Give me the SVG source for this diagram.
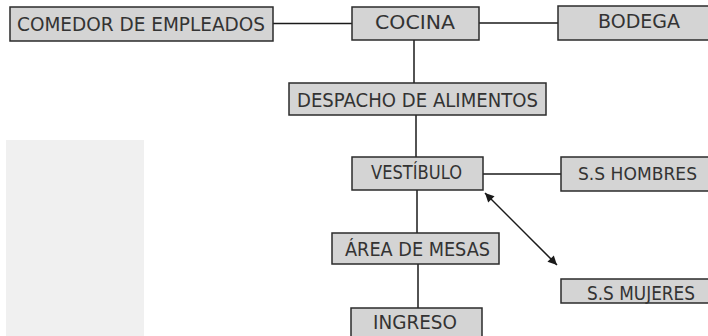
<svg xmlns="http://www.w3.org/2000/svg" width="708" height="336" viewBox="0 0 708 336">
<style>
.box{fill:#d4d4d4;stroke:#2b2b2b;stroke-width:1.5}
.lbl{font-family:"DejaVu Sans","Liberation Sans",sans-serif;font-size:19px;fill:#333}
.ln{stroke:#1a1a1a;stroke-width:1.5;fill:none}
</style>
<defs>
<marker id="ah" viewBox="0 0 10 10" refX="10" refY="5" markerWidth="7" markerHeight="6" orient="auto-start-reverse" markerUnits="strokeWidth">
<path d="M0,0 L10,5 L0,10 z" fill="#1a1a1a"/>
</marker>
</defs>
<rect x="6" y="140" width="138" height="196" fill="#f0f0f0"/>
<g id="connectors">
<line class="ln" x1="273" y1="23.5" x2="352" y2="23.5"/>
<line class="ln" x1="479" y1="23" x2="558" y2="23"/>
<line class="ln" x1="414" y1="40" x2="414" y2="83"/>
<line class="ln" x1="416" y1="115" x2="416" y2="157"/>
<line class="ln" x1="483" y1="174" x2="561" y2="174"/>
<line class="ln" x1="417" y1="190" x2="417" y2="233"/>
<line class="ln" x1="418" y1="264" x2="418" y2="308"/>
<line class="ln" x1="485" y1="193" x2="557" y2="265" marker-start="url(#ah)" marker-end="url(#ah)"/>
</g>
<g id="comedor"><rect class="box" x="10" y="7" width="263" height="34"/><text class="lbl" x="17" y="31" textLength="248" lengthAdjust="spacingAndGlyphs">COMEDOR DE EMPLEADOS</text></g>
<g id="cocina"><rect class="box" x="352" y="7" width="127" height="33"/><text class="lbl" x="375" y="29" textLength="80" lengthAdjust="spacingAndGlyphs">COCINA</text></g>
<g id="bodega"><rect class="box" x="558" y="6" width="160" height="34"/><text class="lbl" x="598" y="28" textLength="82" lengthAdjust="spacingAndGlyphs">BODEGA</text></g>
<g id="despacho"><rect class="box" x="289" y="83" width="257" height="32"/><text class="lbl" x="297" y="107" textLength="241" lengthAdjust="spacingAndGlyphs">DESPACHO DE ALIMENTOS</text></g>
<g id="vestibulo"><rect class="box" x="352" y="157" width="131" height="33"/><text class="lbl" x="371" y="179" textLength="91" lengthAdjust="spacingAndGlyphs">VESTÍBULO</text></g>
<g id="hombres"><rect class="box" x="561" y="157" width="160" height="34"/><text class="lbl" x="578" y="180" style="font-size:18px" textLength="119" lengthAdjust="spacingAndGlyphs">S.S HOMBRES</text></g>
<g id="area"><rect class="box" x="332" y="233" width="167" height="31"/><text class="lbl" x="345" y="256" textLength="145" lengthAdjust="spacingAndGlyphs">ÁREA DE MESAS</text></g>
<g id="mujeres"><rect class="box" x="561" y="279" width="160" height="24"/><text class="lbl" x="587" y="300" textLength="108" lengthAdjust="spacingAndGlyphs">S.S MUJERES</text></g>
<g id="ingreso"><rect class="box" x="351" y="308" width="131" height="30"/><text class="lbl" x="373" y="329" textLength="84" lengthAdjust="spacingAndGlyphs">INGRESO</text></g>
</svg>
